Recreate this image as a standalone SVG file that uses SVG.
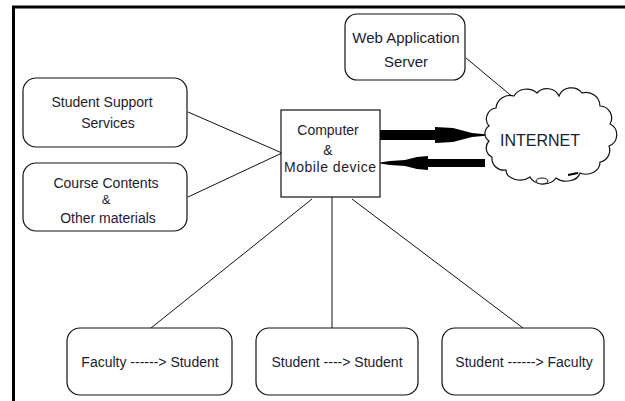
<svg xmlns="http://www.w3.org/2000/svg" width="625" height="401" viewBox="0 0 625 401">
<style>
.box{fill:#fff;stroke:#111;stroke-width:1.2}
.ln{stroke:#111;stroke-width:1;fill:none}
.t{font-family:"Liberation Sans",Arial,sans-serif;font-size:14px;fill:#1c1c30;text-anchor:middle}
.big{font-size:16px}
</style>
<rect width="625" height="401" fill="#fff"/>
<g id="frame">
<line x1="12" y1="7" x2="625" y2="7" stroke="#000" stroke-width="3"/>
<line x1="13.5" y1="6" x2="13.5" y2="401" stroke="#000" stroke-width="3"/>
</g>
<g id="connectors">
<line class="ln" x1="466" y1="58" x2="532" y2="113"/>
<line class="ln" x1="188" y1="112" x2="282" y2="153"/>
<line class="ln" x1="188" y1="197" x2="282" y2="153"/>
<line class="ln" x1="312" y1="199" x2="151" y2="328"/>
<line class="ln" x1="332" y1="197" x2="332" y2="328"/>
<line class="ln" x1="352" y1="199" x2="523" y2="328"/>
<polygon fill="#000" points="380,130 435,130 435,127 453,128 472,133 488,134.5 488,135.5 472,137 453,142 435,143 435,140 380,140"/>
<polygon fill="#000" points="485,159 428,159 428,156 417,157 405,160 390,161 380,162.5 380,163.5 390,165 405,166 417,169 428,170 428,167 485,167"/>
</g>
<g id="web-server">
<rect class="box" x="345" y="14" width="120" height="66" rx="12"/>
<text class="t" x="406" y="43" style="font-size:15px">Web Application</text>
<text class="t" x="406" y="67" style="font-size:15px">Server</text>
</g>
<g id="student-support">
<rect class="box" x="23" y="78" width="164" height="69" rx="13"/>
<text class="t" x="102" y="107">Student Support</text>
<text class="t" x="108" y="128">Services</text>
</g>
<g id="course-contents">
<rect class="box" x="23" y="163" width="164" height="68" rx="13"/>
<text class="t" x="106" y="188">Course Contents</text>
<text class="t" x="106" y="204" style="font-size:13px">&amp;</text>
<text class="t" x="108" y="223">Other materials</text>
</g>
<g id="computer">
<rect class="box" x="281" y="110" width="99" height="87"/>
<text class="t" x="328" y="135">Computer</text>
<text class="t" x="328" y="155">&amp;</text>
<text class="t" x="330" y="172" textLength="92">Mobile device</text>
</g>
<g id="internet">
<path class="box" d="M489,126 A11,11 0 0 1 496,108 A14,14 0 0 1 514,96 A14,12 0 0 1 537,93 A13,12 0 0 1 559,96 A13,12 0 0 1 582,93 A14,14 0 0 1 600,106 A12,12 0 0 1 610,124 A12,12 0 0 1 609,146 A12,12 0 0 1 600,162 A14,12 0 0 1 580,173 A14,10 0 0 1 556,178 A14,10 0 0 1 530,177 A14,10 0 0 1 506,170 A12,12 0 0 1 492,157 A10,10 0 0 1 489,141 A9,9 0 0 1 489,126 Z"/>
<ellipse cx="542" cy="181" rx="6" ry="3" fill="#fff" stroke="#111" stroke-width="1"/>
<line x1="568" y1="175" x2="578" y2="173" stroke="#000" stroke-width="2"/>
<text class="t big" x="540" y="146">INTERNET</text>
</g>
<g id="faculty-student">
<rect class="box" x="67" y="328" width="165" height="67" rx="13"/>
<text class="t" x="150" y="367">Faculty ------&gt; Student</text>
</g>
<g id="student-student">
<rect class="box" x="256" y="328" width="162" height="67" rx="13"/>
<text class="t" x="337" y="367">Student ----&gt; Student</text>
</g>
<g id="student-faculty">
<rect class="box" x="442" y="328" width="162" height="67" rx="13"/>
<text class="t" x="524" y="367">Student ------&gt; Faculty</text>
</g>
</svg>
